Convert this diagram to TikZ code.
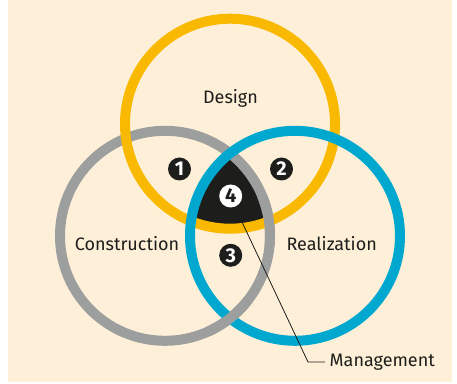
\documentclass[tikz,border=0pt]{standalone}
\usepackage{fontspec}
\setmainfont{Fira Sans}
\usetikzlibrary{calc}
\definecolor{designyellow}{HTML}{F9B900}
\definecolor{realblue}{HTML}{00A8CF}
\definecolor{constgray}{HTML}{9D9E9E}
\definecolor{paper}{HTML}{FEF0D8}
\definecolor{ink}{HTML}{1D1D1B}
\def\ringarc[#1](#2)(#3:#4:#5){\draw[#1] ($(#2)+({#5*cos(#3)},{#5*sin(#3)})$) arc (#3:#4:#5);}
\tikzset{
	ring/.style={line width=10pt},
	numdot/.style={circle, fill=ink, text=white, minimum size=23pt, inner sep=0pt, font=\fontsize{20}{20}\selectfont\bfseries},
	lbl/.style={text=ink, inner sep=0pt, anchor=base, font=\fontsize{18}{20}\selectfont}
}

\begin{document}
\begin{tikzpicture}[x=1pt, y=1pt]
			%%%%% START %%%%%
			
			\useasboundingbox (0, 0) rectangle (457, 383);
			\fill[paper] (8, 0.7) rectangle (452, 383);
			
			\coordinate (construction) at (165, 147.2);
			\coordinate (design) at (230, 259.3);
			\coordinate (realization) at (295, 147.2);
			
			% core where all three overlap
			\begin{scope}
				\clip (construction) circle (105);
				\clip (design) circle (105);
				\fill[ink] (realization) circle (105);
			\end{scope}
			
			\draw[ring, constgray] (construction) circle (105);
			\draw[ring, designyellow] (design) circle (105);
			\draw[ring, realblue] (realization) circle (105);
			
			% gray goes over again at two crossings
			\ringarc[ring, constgray](construction)(-66:-38:105);
			\ringarc[ring, constgray](construction)(-6:22:105);
			
			\node[lbl] (designlbl) at (230.5, 279.7) {Design};
			\node[lbl] (constlbl) at (127, 133) {Construction};
			\node[lbl] (reallbl) at (331.7, 133) {Realization};
			
			\node[numdot] (n1) at (179.5, 214) {1};
			\node[numdot] (n2) at (281.5, 214) {2};
			\node[numdot] (n3) at (230.7, 127.7) {3};
			\node[numdot, fill=white, text=ink] (n4) at (230.7, 187) {4};
			
			\node[lbl, anchor=base west, inner xsep=4.5pt] (mgmt) at (325, 16.3) {Management};
			\coordinate (lead) at (242, 161);
			\coordinate (bend) at (308, 21);
			\draw[ink, line width=0.8pt] (lead) -- (bend) -- (bend -| mgmt.west);
			
			%%%%% END %%%%%
		\end{tikzpicture}
\end{document}
